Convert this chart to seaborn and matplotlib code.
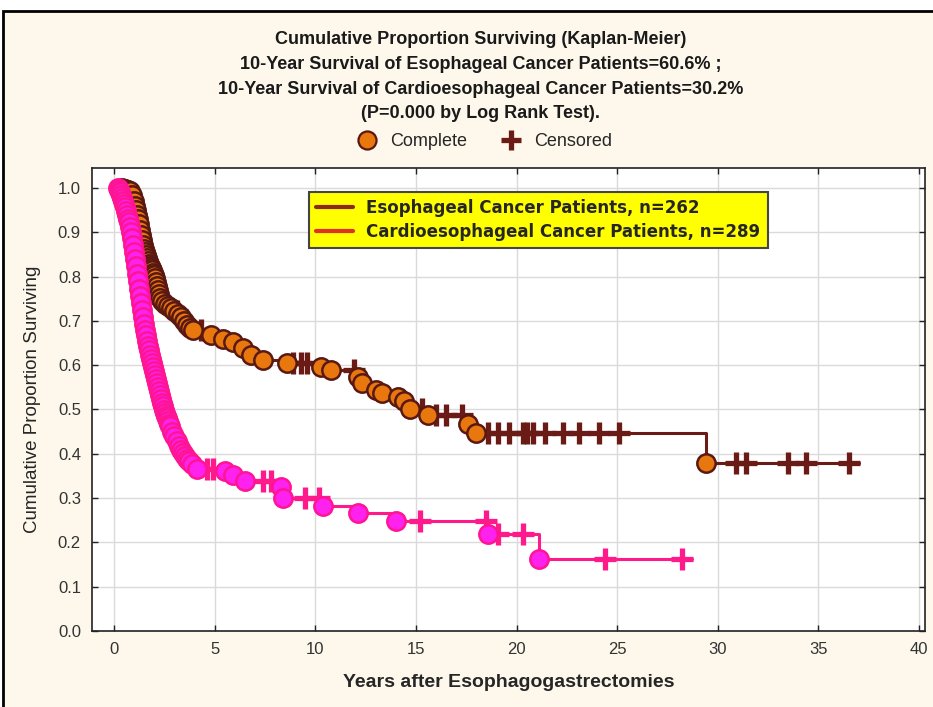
import numpy as np
import pandas as pd
import matplotlib
matplotlib.use('Agg')
import matplotlib.pyplot as plt
import seaborn as sns
from matplotlib.lines import Line2D
from matplotlib.patches import Rectangle

# Esophageal cancer patients (n=262): event times (years) and survival after each event
eso_t = [0.40, 0.55, 0.70, 0.80, 0.90, 1.00, 1.05, 1.10, 1.15, 1.20, 1.25, 1.30, 1.35, 1.40,
         1.45, 1.50, 1.55, 1.60, 1.65, 1.70, 1.75, 1.80, 1.85, 1.90, 1.95, 2.00, 2.05, 2.10,
         2.15, 2.20, 2.25, 2.30, 2.40, 2.55, 2.70, 2.85, 3.00, 3.15, 3.30, 3.45, 3.60, 3.75, 3.90,
         4.8, 5.4, 5.9, 6.4, 6.8, 7.4, 8.6, 10.3, 10.8, 12.1, 12.3, 13.0, 13.3, 14.1, 14.4,
         14.7, 15.6, 17.6, 18.0, 29.4]
eso_s = [1.000, 0.998, 0.996, 0.992, 0.985, 0.970, 0.960, 0.950, 0.940, 0.929, 0.918, 0.906, 0.893, 0.882,
         0.872, 0.863, 0.855, 0.848, 0.841, 0.835, 0.829, 0.824, 0.819, 0.814, 0.809, 0.803, 0.796, 0.788,
         0.779, 0.769, 0.760, 0.752, 0.745, 0.739, 0.734, 0.729, 0.723, 0.716, 0.708, 0.700, 0.691, 0.684, 0.679,
         0.667, 0.660, 0.652, 0.638, 0.624, 0.612, 0.604, 0.595, 0.588, 0.573, 0.559, 0.545, 0.538, 0.529, 0.520,
         0.500, 0.487, 0.468, 0.446, 0.380]
eso_cens = [2.3, 3.1, 4.3, 8.9, 9.3, 9.6, 11.9, 15.3, 16.0, 16.5, 17.3, 18.6, 19.1, 19.6, 20.3,
            20.5, 20.8, 21.4, 22.3, 23.1, 24.1, 25.1, 30.9, 31.4, 33.5, 34.4, 36.5]
eso_end = 37.0

# Cardioesophageal cancer patients (n=289)
car_t = [0.20, 0.25, 0.30, 0.35, 0.40, 0.45, 0.50, 0.55, 0.60, 0.65, 0.70, 0.75, 0.80, 0.85,
         0.90, 0.95, 1.00, 1.05, 1.10, 1.15, 1.20, 1.25, 1.30, 1.35, 1.40, 1.45, 1.50, 1.55,
         1.60, 1.65, 1.70, 1.75, 1.80, 1.85, 1.90, 1.95, 2.00, 2.05, 2.10, 2.15, 2.20, 2.25,
         2.30, 2.35, 2.40, 2.45, 2.50, 2.55, 2.60, 2.65, 2.70, 2.75, 2.80, 2.90, 3.00, 3.10,
         3.20, 3.30, 3.40, 3.50, 3.60, 3.70, 3.85, 4.10,
         5.5, 5.9, 6.5, 8.3, 8.4, 10.4, 12.1, 14.0, 18.6, 21.1]
car_s = [1.000, 0.995, 0.990, 0.984, 0.978, 0.971, 0.964, 0.956, 0.948, 0.940, 0.931, 0.922, 0.912, 0.900,
         0.886, 0.871, 0.856, 0.840, 0.823, 0.806, 0.789, 0.772, 0.756, 0.740, 0.724, 0.709, 0.694, 0.680,
         0.667, 0.655, 0.644, 0.634, 0.624, 0.614, 0.605, 0.596, 0.587, 0.578, 0.569, 0.560, 0.551, 0.542,
         0.533, 0.524, 0.515, 0.507, 0.499, 0.492, 0.486, 0.480, 0.474, 0.468, 0.462, 0.450, 0.439, 0.428,
         0.418, 0.409, 0.401, 0.394, 0.388, 0.383, 0.376, 0.366,
         0.362, 0.351, 0.339, 0.324, 0.300, 0.283, 0.267, 0.249, 0.219, 0.163]
car_cens = [4.6, 4.9, 7.4, 7.8, 9.5, 10.2, 15.2, 18.5, 19.1, 20.3, 24.4, 28.2]
car_end = 28.7

title_lines = ['Cumulative Proportion Surviving (Kaplan-Meier)',
               '10-Year Survival of Esophageal Cancer Patients=60.6% ;',
               '10-Year Survival of Cardioesophageal Cancer Patients=30.2%',
               '(P=0.000 by Log Rank Test).']
group_labels = ['Esophageal Cancer Patients, n=262', 'Cardioesophageal Cancer Patients, n=289']

sns.set_theme(style='whitegrid')
plt.rcParams['font.family'] = ['Liberation Sans', 'DejaVu Sans']

cream = '#FDF8EB'
fig = plt.figure(figsize=(9.33, 7.07), dpi=100, facecolor='white')
fig.add_artist(Rectangle((3 / 933, -0.02), 1.1, 1 - 11 / 707 + 0.02, transform=fig.transFigure,
                         facecolor=cream, edgecolor='black', lw=2, zorder=-5))
ax = fig.add_axes([92 / 933, 76 / 707, 833 / 933, 463 / 707])
ax.set_facecolor('white')


def km_frame(t, s, end):
    return pd.DataFrame({'t': list(t) + [end], 's': list(s) + [s[-1]]})


def cens_frame(t, s, cens):
    idx = np.searchsorted(t, cens, side='right') - 1
    return pd.DataFrame({'t': cens, 's': np.array(s)[idx]})


series = [
    (eso_t, eso_s, eso_cens, eso_end, '#6A1B16', '#E8780E', '#5A1812'),
    (car_t, car_s, car_cens, car_end, '#FF1A8C', '#FF22EE', '#FF1493'),
]
for t, s, cens, end, lc, fc, ec in series:
    line = km_frame(t, s, end)
    sns.lineplot(data=line, x='t', y='s', ax=ax, sort=False, estimator=None,
                 drawstyle='steps-post', color=lc, lw=2.2, zorder=3)
    sns.scatterplot(data=cens_frame(t, s, cens), x='t', y='s', ax=ax, marker='+',
                    s=250, color=lc, linewidth=3.8, zorder=4)
    sns.scatterplot(data=pd.DataFrame({'t': t, 's': s}), x='t', y='s', ax=ax, marker='o',
                    s=175, color=fc, edgecolor=ec, linewidth=1.8, zorder=5)

ax.set_xlim(-1.1, 40.3)
ax.set_ylim(0, 1.045)
ax.set_xticks(np.arange(0, 41, 5))
ax.set_yticks(np.arange(0, 1.01, 0.1))
ax.set_yticklabels([f'{v:.1f}' for v in np.arange(0, 1.01, 0.1)])
ax.grid(True, color='#DADADA', lw=1)
for sp in ax.spines.values():
    sp.set_color('#222222')
    sp.set_linewidth(1.2)
ax.tick_params(direction='in', length=4, width=1, colors='#222222', labelcolor='#333333',
               labelsize=12, top=True, right=True, left=True, bottom=True, pad=8)
ax.set_xlabel('Years after Esophagogastrectomies', fontsize=14, fontweight='bold', labelpad=12)
ax.set_ylabel('Cumulative Proportion Surviving', fontsize=13.5, labelpad=12)

leg_handles = [Line2D([], [], color='#8B2A1A', lw=3), Line2D([], [], color='#E0302A', lw=3)]
leg = ax.legend(leg_handles, group_labels, loc='upper left', bbox_to_anchor=(0.25, 0.967),
                frameon=True, fancybox=False, facecolor='#FFFF00', edgecolor='#444444',
                prop={'weight': 'bold', 'size': 12, 'family': 'DejaVu Sans'},
                handlelength=2.2, borderpad=0.45, labelspacing=0.35, framealpha=1)
leg.get_frame().set_linewidth(1.5)

for i, line in enumerate(title_lines):
    fig.text(0.515, 1 - (40 + 24.5 * i) / 707, line, ha='center', va='center',
             fontsize=13, fontweight='bold', color='#1A1A1A')

mark_handles = [Line2D([], [], marker='o', ls='', ms=13, mfc='#E8780E', mec='#5A1812', mew=1.6),
                Line2D([], [], marker='+', ls='', ms=15, mew=3.8, color='#6A1B16')]
fig.legend(mark_handles, ['Complete', 'Censored'], loc='center', bbox_to_anchor=(0.515, 1 - 142 / 707),
           ncol=2, frameon=False, fontsize=13, handletextpad=0.3, columnspacing=1.4)

fig.savefig('out.png', dpi=100, facecolor=fig.get_facecolor())
